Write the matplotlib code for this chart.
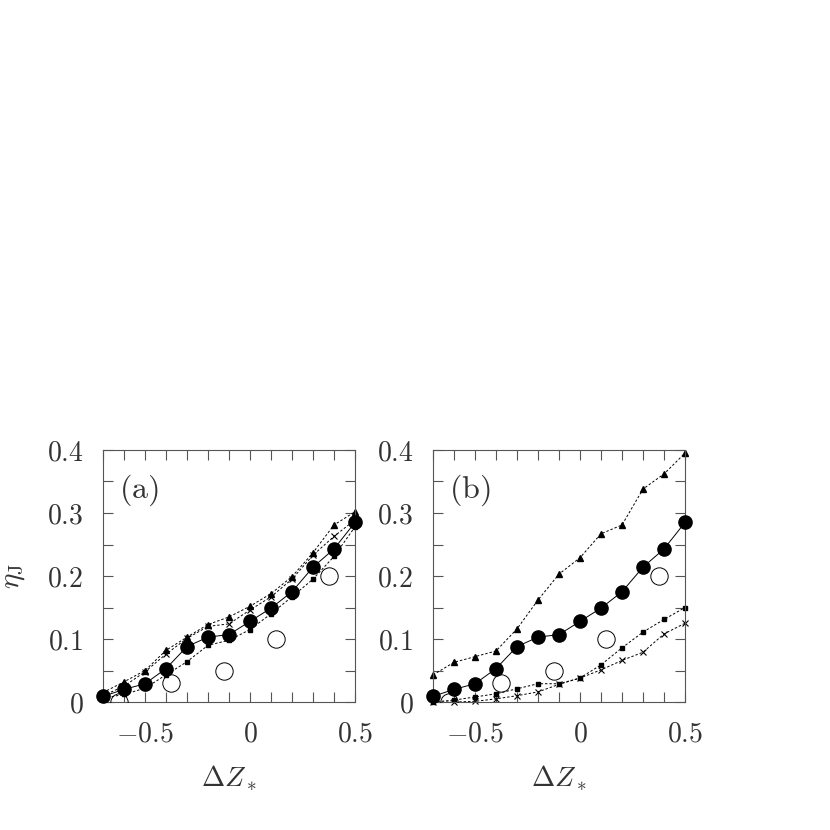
import matplotlib
matplotlib.use("Agg")
import matplotlib.pyplot as plt
import numpy as np

plt.rcParams['mathtext.fontset'] = 'cm'
plt.rcParams['font.family'] = 'serif'
plt.rcParams['font.serif'] = ['DejaVu Serif']

# grid de Delta Z
dz = [-0.7, -0.6, -0.5, -0.4, -0.3, -0.2, -0.1, 0.0, 0.1, 0.2, 0.3, 0.4, 0.5]

# curva cheia (igual nos dois paineis)
eta_circ = [0.009, 0.020, 0.029, 0.053, 0.088, 0.103, 0.107, 0.128, 0.149, 0.175, 0.214, 0.243, 0.285]

# painel (a)
a_tri = [0.015, 0.032, 0.050, 0.082, 0.103, 0.123, 0.135, 0.152, 0.172, 0.199, 0.237, 0.281, 0.302]
a_crs = [0.010, 0.025, 0.048, 0.076, 0.101, 0.120, 0.124, 0.146, 0.167, 0.195, 0.233, 0.263, 0.289]
a_sqr = [0.006, 0.012, 0.022, 0.043, 0.064, 0.090, 0.098, 0.115, 0.140, 0.167, 0.195, 0.231, 0.278]

# painel (b)
b_tri = [0.043, 0.063, 0.072, 0.081, 0.116, 0.162, 0.203, 0.229, 0.267, 0.281, 0.338, 0.362, 0.395]
b_crs = [0.000, 0.000, 0.001, 0.005, 0.010, 0.016, 0.028, 0.038, 0.051, 0.066, 0.079, 0.108, 0.125]
b_sqr = [0.000, 0.003, 0.008, 0.013, 0.021, 0.029, 0.029, 0.038, 0.059, 0.086, 0.111, 0.131, 0.150]

# pontos abertos
obs_x = [-0.625, -0.375, -0.125, 0.125, 0.375]
obs_y = [0.0, 0.03, 0.05, 0.1, 0.2]

W = 830.0
fig = plt.figure(figsize=(8.3, 8.3), dpi=100)
cinza = '#333333'

def painel(left, tri, crs, sqr, label):
  ax = fig.add_axes([left/W, (830-702)/W, 252/W, 252/W])
  dash = (0, (2.5, 2))
  ax.plot(dz, tri, linestyle=dash, color='k', lw=0.7, marker='^', ms=4.5, clip_on=False)
  ax.plot(dz, crs, linestyle=dash, color='k', lw=0.7, marker='x', ms=4.5, mew=0.8, clip_on=False)
  ax.plot(dz, sqr, linestyle=dash, color='k', lw=0.7, marker='s', ms=3.5, clip_on=False)
  ax.plot(dz, eta_circ, '-', color='k', lw=0.7, marker='o', ms=9.5, clip_on=False, zorder=5)
  ax.plot(obs_x, obs_y, 'o', mfc='none', mec='k', mew=0.7, ms=12.5, zorder=6)
  ax.set_xlim(-0.7, 0.5)
  ax.set_ylim(0, 0.4)
  ax.set_xticks(np.arange(-0.7, 0.51, 0.1), minor=True)
  ax.set_xticks([-0.5, 0, 0.5])
  ax.set_xticklabels([r'$-0.5$', r'$0$', r'$0.5$'])
  ax.set_yticks(np.arange(0, 0.41, 0.05), minor=True)
  ax.set_yticks([0, 0.1, 0.2, 0.3, 0.4])
  ax.set_yticklabels([r'$0$', r'$0.1$', r'$0.2$', r'$0.3$', r'$0.4$'])
  ax.tick_params(which='both', direction='in', top=True, right=True, length=7, width=0.8,
                 color='#555555', labelsize=20, labelcolor=cinza)
  ax.tick_params(axis='x', pad=13)
  ax.tick_params(axis='y', pad=14)
  for s in ax.spines.values():
    s.set_linewidth(0.8)
    s.set_color('#555555')
  ax.text(0.065, 0.84, label, transform=ax.transAxes, fontsize=23, va='center', ha='left',
          color=cinza)
  ax.set_xlabel(r'$\mathit{\Delta Z}_*$', fontsize=20, labelpad=12, color=cinza)
  return ax

ax1 = painel(103, a_tri, a_crs, a_sqr, r'$\mathrm{(a)}$')
ax2 = painel(433, b_tri, b_crs, b_sqr, r'$\mathrm{(b)}$')
ax1.set_ylabel(r'$\eta_{\rm J}$', fontsize=21, labelpad=14, color=cinza)

fig.savefig('out.png', dpi=100)
